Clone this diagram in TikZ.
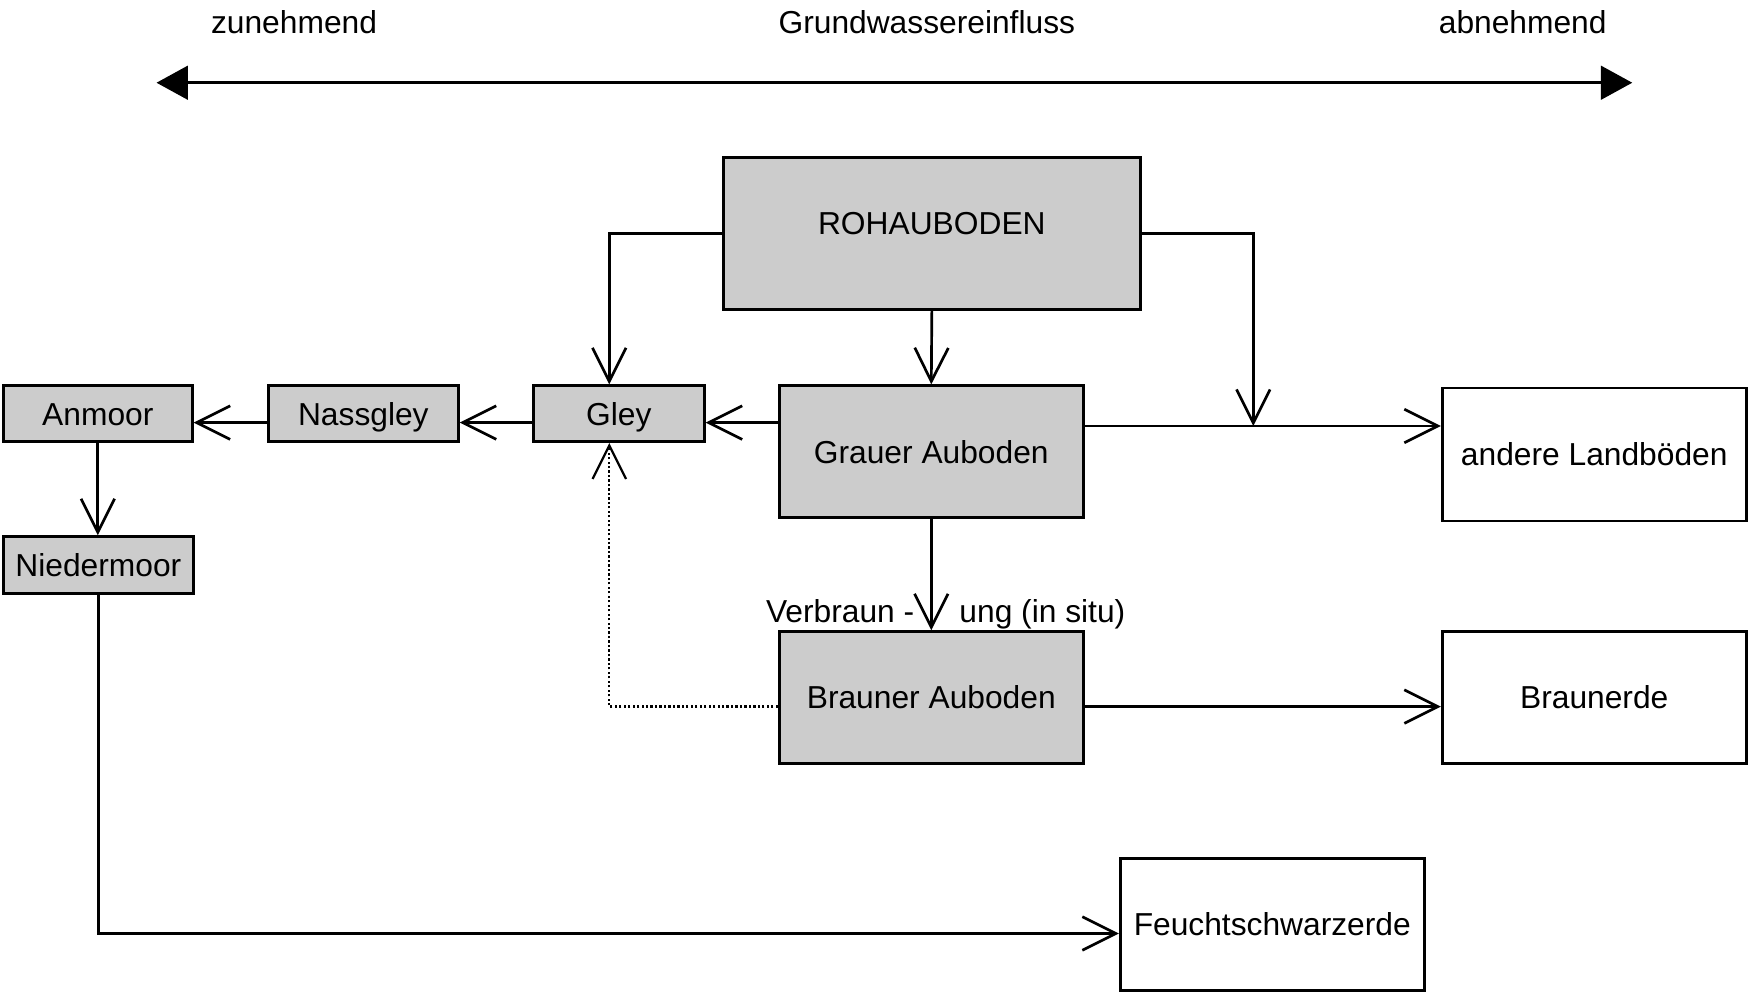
\documentclass[tikz,border=0pt]{standalone}
\usepackage{fontspec}
\setmainfont{Liberation Sans}
\usetikzlibrary{arrows.meta}
\definecolor{boxgray}{RGB}{204,204,204}
\begin{document}
\begin{tikzpicture}[x=1pt,y=-1pt,
  every node/.style={font=\fontsize{28.4}{34}\selectfont, inner sep=0pt},
  soil/.style={draw, line width=2.4pt, fill=boxgray, text height=20.3pt, text depth=0pt},
  landbox/.style={draw, line width=2.4pt, fill=white, text height=20.3pt, text depth=0pt},
  conn/.style={line width=2.4pt, -{Straight Barb[length=30pt,width=30pt]}},
  dotconn/.style={line width=2pt, dash pattern=on 2pt off 2pt, -{Straight Barb[length=30pt,width=30pt]}},
  gradient/.style={line width=2.6pt, {Triangle[length=28pt,width=30pt]}-{Triangle[length=28pt,width=30pt]}}]
\useasboundingbox (0,0) rectangle (1568,887);

% gradient of groundwater influence
\node[anchor=base] (zu) at (263,30) {zunehmend};
\node[anchor=base] (gw) at (829,30) {Grundwassereinfluss};
\node[anchor=base] (ab) at (1362,30) {abnehmend};
\coordinate (gL) at (140,74);
\coordinate (gR) at (1460,74);
\draw[gradient] (gL) -- (gR);

% soil boxes
\node[soil, minimum width=373pt, minimum height=136pt] (roh) at (833.5,209) {};
\node[anchor=base] (rohtext) at (833.5,210) {ROHAUBODEN};
\node[soil, minimum width=272pt, minimum height=118pt] (gra) at (833,404) {Grauer Auboden};
\node[soil, minimum width=272pt, minimum height=118pt] (bra) at (833,624) {Brauner Auboden};
\node[landbox, minimum width=272pt, minimum height=119pt] (and) at (1426,406.5) {andere Landb\"oden};
\node[landbox, minimum width=272pt, minimum height=118pt] (braun) at (1426,624) {Braunerde};
\node[landbox, minimum width=272pt, minimum height=118pt] (feucht) at (1138,827) {Feuchtschwarzerde};
\node[soil, minimum width=153pt, minimum height=50pt] (gley) at (553.5,370) {Gley};
\node[soil, minimum width=170pt, minimum height=50pt] (nass) at (325,370) {Nassgley};
\node[soil, minimum width=169pt, minimum height=50pt] (anm) at (87.5,370) {Anmoor};
\node[soil, minimum width=170pt, minimum height=51pt] (nied) at (88,505.5) {Niedermoor};

% helper rows and columns for connectors
\coordinate (rowA) at (0,378);
\coordinate (rowB) at (0,381);
\coordinate (rowC) at (0,632);
\coordinate (rowD) at (0,835);
\coordinate (gleyin) at (545,0);
\coordinate (join) at (1121,381);

% connectors
\draw[conn] (roh.west) -| (gleyin |- gley.north);
\draw[conn] (roh.south) -- (gra.north);
\draw[conn] (roh.east) -| (join);
\draw[conn] (gra.east |- rowB) -- (and.west |- rowB);
\draw[conn] (gra.west |- rowA) -- (gley.east |- rowA);
\draw[conn] (gley.west |- rowA) -- (nass.east |- rowA);
\draw[conn] (nass.west |- rowA) -- (anm.east |- rowA);
\draw[conn] (anm.south) -- (anm.south |- nied.north);
\draw[conn] (nied.south) |- (feucht.west |- rowD);
\draw[conn] (gra.south) -- (bra.north);
\draw[dotconn] (bra.west |- rowC) -| (gleyin |- gley.south);
\draw[conn] (bra.east |- rowC) -- (braun.west |- rowC);

% label of the browning step
\node[anchor=base east] (verb) at (818,557) {Verbraun -};
\node[anchor=base west] (ung) at (858,557) {ung (in situ)};
\end{tikzpicture}
\end{document}
